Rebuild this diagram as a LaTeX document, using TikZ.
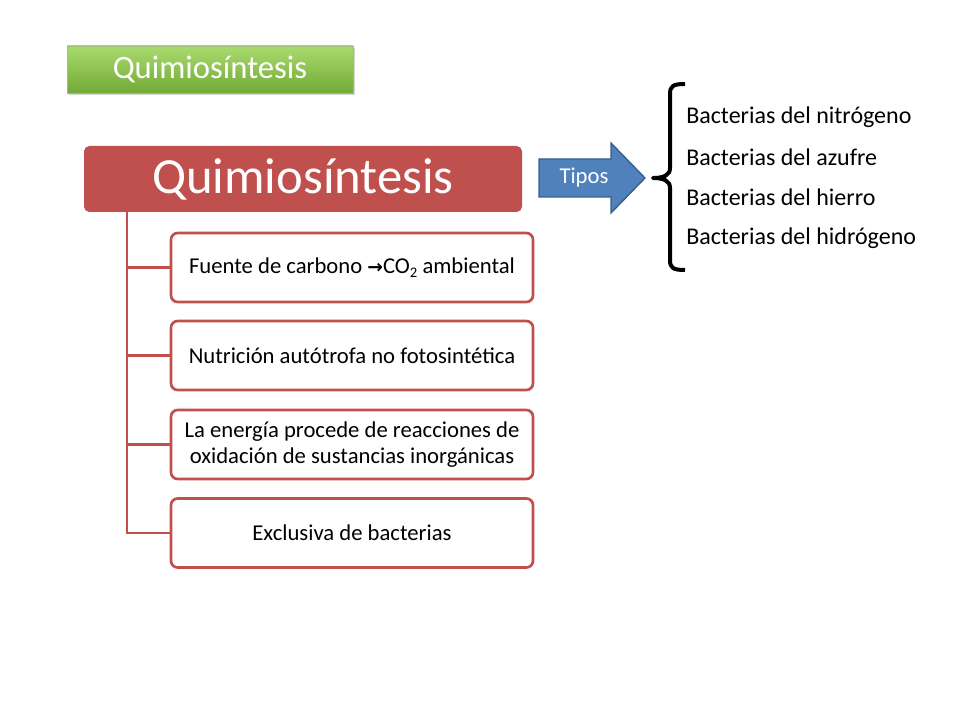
\documentclass[tikz,border=0pt]{standalone}
\usepackage{fontspec}
\setmainfont{Carlito}
\newfontfamily\arrowfont{DejaVu Sans}
\usetikzlibrary{shadows}
\definecolor{redhead}{HTML}{C0504D}
\definecolor{blueA}{HTML}{4F81BD}
\definecolor{blueB}{HTML}{385D8A}
\definecolor{greenTop}{HTML}{A9DA6E}
\definecolor{greenBot}{HTML}{72AA36}
\tikzset{
  child/.style={draw=redhead, line width=2pt, fill=white, rounded corners=5pt,
    minimum width=362*0.75pt, minimum height=69*0.75pt, align=center,
    font=\fontsize{17}{19.5}\selectfont, inner sep=2pt},
  conn/.style={draw=redhead, line width=2pt},
  item/.style={anchor=west, font=\fontsize{18}{21}\selectfont, inner sep=0pt}
}
\begin{document}
\begin{tikzpicture}[x=0.75pt,y=-0.75pt]
\useasboundingbox (0,0) rectangle (960,720);
% green title
\node[minimum width=286*0.75pt, minimum height=47*0.75pt, inner sep=0pt,
  top color=greenTop, bottom color=greenBot, draw=greenBot!70!white, line width=0.5pt,
  drop shadow={shadow xshift=1.5pt, shadow yshift=-1.5pt, opacity=0.35},
  text=white, font=\fontsize{24.5}{29}\selectfont] (title) at (210,69.5) {Quimiosíntesis};
% red header
\node[fill=redhead, rounded corners=4pt, minimum width=438*0.75pt, minimum height=66*0.75pt,
  inner sep=0pt, text=white, font=\fontsize{38}{45}\selectfont] (head) at (303,179) {Quimiosíntesis};
% children
\node[child] (c1) at (352,267.5) {Fuente de carbono {\arrowfont\bfseries\fontsize{14}{15}\selectfont →}CO\raisebox{-0.35ex}{\fontsize{11}{11}\selectfont 2} ambiental};
\node[child] (c2) at (352,355.5) {Nutrición autótrofa no fotosintética};
\node[child] (c3) at (352,444.5) {La energía procede de reacciones de\\oxidación de sustancias inorgánicas};
\node[child] (c4) at (352,533) {Exclusiva de bacterias};
\coordinate (top) at (127,212);
\draw[conn] (top) -- (127,533) -- (c4.west);
\draw[conn] (127,267.5) -- (c1.west);
\draw[conn] (127,355.5) -- (c2.west);
\draw[conn] (127,444.5) -- (c3.west);
% blue arrow
\draw[fill=blueA, draw=blueB, line width=1pt, line join=miter]
  (539,159) -- (611,159) -- (611,143) -- (645,178) -- (611,213) -- (611,197) -- (539,197) -- cycle;
\node[text=white, font=\fontsize{17}{20}\selectfont, inner sep=0pt] (tipos) at (584,178) {Tipos};
% bracket
\draw[line width=3pt, line join=round] (685,84) .. controls (673,84) and (670,86) .. (670,94)
  -- (670,168) .. controls (670,175) and (664,178) .. (653,178)
  .. controls (664,178) and (670,181) .. (670,188)
  -- (670,260) .. controls (670,268) and (673,270) .. (685,270);
% items
\node[item] (i1) at (686,117) {Bacterias del nitrógeno};
\node[item] (i2) at (686,157) {Bacterias del azufre};
\node[item] (i3) at (686,197) {Bacterias del hierro};
\node[item] (i4) at (686,238) {Bacterias del hidrógeno};
\end{tikzpicture}
\end{document}
